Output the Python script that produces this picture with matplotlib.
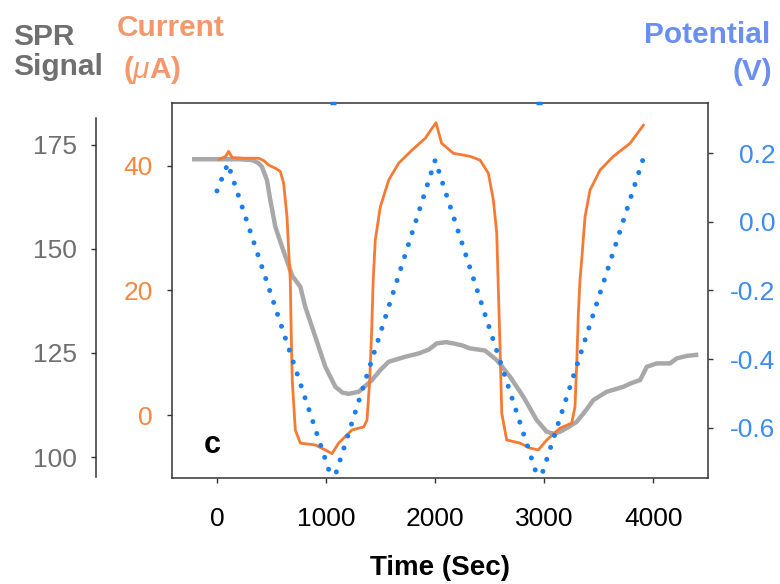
import matplotlib
matplotlib.use('Agg')
import matplotlib.pyplot as plt
from matplotlib.transforms import blended_transform_factory

plt.rcParams['font.family'] = ['Liberation Sans', 'DejaVu Sans']
plt.rcParams['mathtext.fontset'] = 'custom'
plt.rcParams['mathtext.it'] = 'Liberation Sans:italic'
plt.rcParams['mathtext.rm'] = 'Liberation Sans:bold'
plt.rcParams['axes.unicode_minus'] = False

# ---------------- data ----------------
spr_time = [-229, 0, 200, 321, 380, 412, 458, 489, 535, 596, 650, 690, 764, 809, 901,
            993, 1085, 1150, 1207, 1299, 1421, 1500, 1574, 1650, 1726, 1849, 1940, 2014,
            2100, 2166, 2250, 2319, 2456, 2564, 2686, 2808, 2930, 3022, 3090, 3144, 3220,
            3297, 3380, 3449, 3572, 3650, 3725, 3800, 3878, 3939, 4030, 4152, 4213, 4305, 4411]
spr_signal = [171.5, 171.5, 171.5, 171.3, 170.6, 169.7, 166.5, 161.7, 155.3, 150.5, 146.5,
              143.5, 140.9, 136.1, 128.9, 121.7, 116.9, 115.5, 115.2, 115.7, 118.5, 121.0,
              122.9, 123.5, 124.1, 124.9, 125.8, 127.3, 127.6, 127.3, 126.8, 126.1, 125.6,
              123.3, 119.3, 114.5, 108.9, 106.1, 105.6, 106.1, 107.2, 108.5, 111.2, 113.7,
              115.7, 116.3, 116.9, 117.8, 118.5, 121.7, 122.5, 122.5, 123.7, 124.3, 124.6]

current_time = [20, 80, 107, 140, 250, 382, 430, 474, 535, 580, 611, 642, 657, 672, 680,
                690, 718, 764, 901, 993, 1054, 1115, 1237, 1345, 1375, 1400, 1418, 1432,
                1451, 1497, 1574, 1665, 1787, 1909, 1971, 2007, 2059, 2166, 2319, 2411,
                2487, 2533, 2564, 2579, 2594, 2610, 2655, 2777, 2869, 2945, 3022, 3144,
                3251, 3281, 3297, 3312, 3327, 3343, 3373, 3419, 3511, 3633, 3786, 3908]
current_ua = [41.0, 41.5, 42.3, 41.3, 41.2, 41.2, 40.8, 40.1, 39.6, 39.1, 37.2, 31.8, 26.5,
              21.7, 13.6, 5.6, -2.4, -4.5, -4.8, -5.6, -6.2, -4.5, -2.4, -1.9, -0.8, 5.6,
              13.6, 21.7, 28.1, 33.4, 37.7, 40.4, 42.5, 44.4, 46.0, 46.9, 43.6, 42.0, 41.5,
              40.9, 38.8, 34.5, 29.2, 20.1, 11.0, 0.3, -4.0, -4.5, -5.3, -5.6, -4.0, -2.1,
              -1.3, 1.3, 8.3, 16.3, 21.7, 25.0, 31.8, 36.1, 39.3, 41.5, 43.6, 46.5]

potential_time = [0, 100, 1063, 2000, 2954, 3902]
potential_v = [0.09, 0.17, -0.76, 0.18, -0.76, 0.18]

x_ticks = [0, 1000, 2000, 3000, 4000]
spr_ticks = [100, 125, 150, 175]
current_ticks = [0, 20, 40]
potential_ticks = [-0.6, -0.4, -0.2, 0.0, 0.2]
potential_tick_labels = ['-0.6', '-0.4', '-0.2', '0.0', '0.2']

# ---------------- style ----------------
GRAY_LINE = '#a8a8a8'
GRAY_TXT = '#6f6f6f'
ORANGE_LINE = '#f57a33'
ORANGE_TICK = '#f5873f'
ORANGE_TXT = '#f5976a'
BLUE_LINE = '#1a7ef0'
BLUE_TICK = '#3a8cf0'
BLUE_TXT = '#6b8ef2'
SPINE = '#333333'
TICK_FS = 19
TITLE_FS = 21.5

W, H = 780, 584
fig = plt.figure(figsize=(W / 100, H / 100), dpi=100)
L, R, T, B = 172, 708, 103, 478
ax = fig.add_axes([L / W, 1 - B / H, (R - L) / W, (B - T) / H])
ax_cur = ax.twinx()
ax_pot = ax.twinx()

# SPR (host)
ax.plot(spr_time, spr_signal, color=GRAY_LINE, lw=3.2, solid_capstyle='butt')
ax.set_xlim(-412, 4500)
ax.set_ylim(95.0, 185.0)
ax.set_xticks(x_ticks)
ax.set_yticks(spr_ticks)
ax.spines['left'].set_position(('axes', -(L - 96) / (R - L)))
ax.spines['left'].set_bounds(95.3, 181.5)
ax.spines['right'].set_visible(False)
for s in ['left', 'top', 'bottom']:
    ax.spines[s].set_color(SPINE)
    ax.spines[s].set_linewidth(1.1)
ax.tick_params(axis='x', direction='out', length=3.6, width=1.0, color=SPINE,
               pad=17, labelsize=TICK_FS, labelcolor='black')
ax.tick_params(axis='y', direction='out', length=3.6, width=1.0, color=SPINE,
               pad=10, labelsize=TICK_FS, labelcolor=GRAY_TXT)

# Current
ax_cur.plot(current_time, current_ua, color=ORANGE_LINE, lw=2.0)
ax_cur.set_ylim(-10.1, 50.06)
ax_cur.set_yticks(current_ticks)
ax_cur.yaxis.set_ticks_position('left')
ax_cur.yaxis.set_label_position('left')
for s in ['right', 'top', 'bottom']:
    ax_cur.spines[s].set_visible(False)
ax_cur.spines['left'].set_color(SPINE)
ax_cur.spines['left'].set_linewidth(1.1)
ax_cur.tick_params(axis='y', which='both', left=True, right=False, labelleft=True,
                   labelright=False, direction='out', length=3.6, width=1.0,
                   color=SPINE, pad=10, labelsize=TICK_FS, labelcolor=ORANGE_TICK)

# Potential
ax_pot.plot(potential_time, potential_v, color=BLUE_LINE, lw=3.6,
            linestyle=(0, (0.01, 2.5)), dash_capstyle='round')
ax_pot.set_ylim(-0.7468, 0.3465)
ax_pot.set_yticks(potential_ticks)
ax_pot.set_yticklabels(potential_tick_labels)
for s in ['left', 'top', 'bottom']:
    ax_pot.spines[s].set_visible(False)
ax_pot.spines['right'].set_color(SPINE)
ax_pot.spines['right'].set_linewidth(1.1)
ax_pot.tick_params(axis='y', direction='out', length=3.6, width=1.0, color=SPINE,
                   pad=45, labelsize=TICK_FS, labelcolor=BLUE_TICK)
for lbl in ax_pot.get_yticklabels():
    lbl.set_horizontalalignment('right')

# small blue marks on the top frame at potential minima
vmin = min(potential_v)
min_times = [t for t, v in zip(potential_time, potential_v) if v == vmin]
trans = blended_transform_factory(ax_pot.transData, ax_pot.transAxes)
ax_pot.plot(min_times, [1.0] * len(min_times), transform=trans, linestyle='none',
            marker='_', markersize=5, mew=2.5, color=BLUE_LINE, clip_on=False)

# panel letter
ax_pot.text((212 - L) / (R - L), (B - 453) / (B - T), 'c', transform=ax_pot.transAxes,
            ha='center', va='baseline', fontsize=22, fontweight='bold', color='black')

# x label
ax.set_xlabel('Time (Sec)', fontsize=20, fontweight='bold')
ax.xaxis.set_label_coords(440 / W, 1 - 575 / H, transform=fig.transFigure)
ax.xaxis.label.set_verticalalignment('baseline')

# axis titles
def ftext(x, y, s, color, ha='left'):
    fig.text(x / W, 1 - y / H, s, ha=ha, va='baseline', fontsize=TITLE_FS,
             fontweight='bold', color=color)

ftext(13, 45, 'SPR', GRAY_TXT)
ftext(13, 75, 'Signal', GRAY_TXT)
ftext(117, 36, 'Current', ORANGE_TXT)
ftext(123, 78, r'($\mu$A)', ORANGE_TXT)
ftext(770, 43, 'Potential', BLUE_TXT, ha='right')
ftext(772, 80, '(V)', BLUE_TXT, ha='right')

fig.savefig('out.png', dpi=100)
